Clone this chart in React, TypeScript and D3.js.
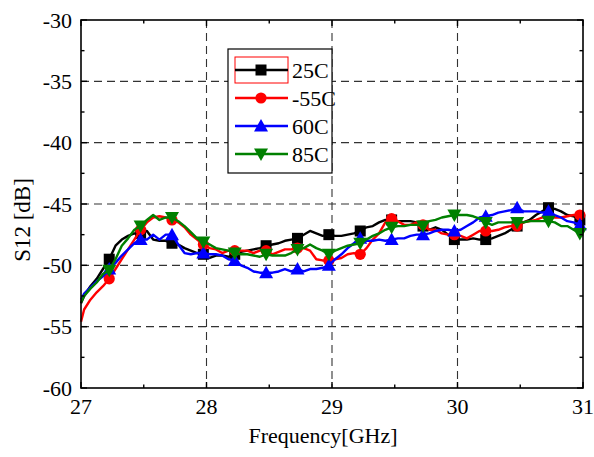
import React from "react";
import * as d3 from "d3";

const freq: number[] = [27.0, ...d3.range(80).map((i) => +(27.025 + 0.05 * i).toFixed(3)), 31.0];

const s25: number[] = [
  -53.1, -52.5, -51.7, -51.1, -50.3, -49.5, -48.4, -47.9, -47.6, -47.4, -47.4, -47.2, -47.9, -48.0, -48.0, -48.2,
  -48.3, -48.6, -48.8, -49.0, -49.1, -49.4, -49.2, -49.2, -49.3, -49.1, -48.9, -48.8, -48.7, -48.6, -48.4, -48.3,
  -48.2, -48.0, -47.9, -47.8, -47.5, -47.2, -47.4, -47.6, -47.5, -47.6, -47.6, -47.5, -47.4, -47.2, -46.9, -46.8,
  -46.5, -46.3, -46.3, -46.4, -46.4, -46.4, -46.5, -46.8, -47.1, -46.9, -47.1, -47.5, -47.9, -47.9, -47.9, -47.8,
  -47.9, -47.9, -47.8, -47.6, -47.4, -47.1, -46.8, -46.5, -46.3, -45.9, -45.6, -45.3, -45.4, -45.6, -45.9, -46.0,
  -46.3, -46.4,
];
const sM55: number[] = [
  -54.6, -53.6, -52.8, -52.2, -51.7, -51.1, -50.3, -49.5, -48.7, -47.9, -47.1, -46.5, -46.1, -46.0, -46.1, -46.3,
  -46.5, -46.9, -47.5, -47.9, -48.3, -48.6, -48.7, -49.0, -48.8, -48.8, -48.8, -48.8, -49.0, -48.8, -48.8, -49.1,
  -48.9, -48.7, -48.7, -48.6, -48.6, -48.8, -49.5, -49.6, -49.6, -49.5, -49.4, -49.1, -49.0, -49.1, -48.6, -47.9,
  -47.4, -46.5, -46.2, -46.4, -46.7, -46.7, -46.5, -46.7, -47.1, -47.1, -47.4, -47.5, -47.5, -47.6, -47.8, -47.5,
  -47.2, -47.2, -47.2, -47.1, -46.9, -46.8, -46.8, -46.5, -46.4, -46.3, -46.1, -46.0, -46.1, -46.1, -46.0, -45.9,
  -45.9, -45.9,
];
const s60: number[] = [
  -52.8, -52.3, -51.8, -51.3, -50.9, -50.3, -49.8, -49.2, -48.7, -48.2, -47.9, -47.9, -47.5, -47.9, -47.5, -47.5,
  -48.3, -49.0, -49.1, -49.0, -49.0, -49.1, -49.1, -49.2, -49.5, -49.6, -50.0, -50.2, -50.5, -50.6, -50.6, -50.6,
  -50.5, -50.3, -50.5, -50.3, -50.5, -50.3, -50.3, -50.2, -50.0, -49.5, -49.1, -48.6, -48.2, -47.8, -48.0, -48.0,
  -47.9, -48.0, -47.9, -47.8, -47.8, -47.6, -47.5, -47.5, -47.4, -47.2, -47.1, -47.1, -47.2, -47.1, -46.8, -46.5,
  -46.1, -46.0, -45.9, -45.7, -45.6, -45.5, -45.3, -45.6, -45.6, -45.6, -45.7, -45.6, -45.9, -46.1, -46.4, -46.5,
  -46.7, -46.8,
];
const s85: number[] = [
  -53.0, -52.5, -51.9, -51.4, -50.7, -50.4, -49.5, -48.4, -47.8, -47.1, -46.8, -46.3, -45.9, -46.3, -46.1, -46.1,
  -46.4, -46.8, -47.3, -47.8, -48.1, -48.3, -48.6, -48.7, -48.8, -49.0, -49.1, -49.1, -49.2, -49.3, -49.1, -49.2,
  -49.2, -49.2, -49.0, -48.7, -48.6, -48.3, -48.6, -48.8, -49.1, -48.8, -48.6, -48.4, -48.3, -48.2, -47.9, -47.6,
  -47.4, -47.1, -46.9, -46.8, -46.8, -46.7, -46.7, -46.8, -46.4, -46.3, -46.1, -46.0, -45.9, -45.9, -45.9, -46.0,
  -46.2, -46.5, -46.7, -46.5, -46.5, -46.5, -46.5, -46.5, -46.4, -46.4, -46.4, -46.4, -46.5, -46.8, -46.8, -47.1,
  -47.4, -47.6,
];

const seriesNames = ["25C", "-55C", "60C", "85C"];
const seriesColors = ["#000000", "#ff0000", "#0000ff", "#008000"];
const seriesShapes = ["square", "circle", "triangle", "triangleDown"];
const seriesValues = [s25, sM55, s60, s85];

const xTicks = [27, 28, 29, 30, 31];
const yTicks = [-60, -55, -50, -45, -40, -35, -30];

const W = 594;
const H = 457;
const L = 81, R = 583, T = 20, B = 388;
const FONT = "'Liberation Serif', 'Times New Roman', serif";

function Marker({ shape, x, y, color }: { shape: string; x: number; y: number; color: string }) {
  if (shape === "square") return <rect x={x - 5.5} y={y - 5.5} width={11} height={11} fill={color} />;
  if (shape === "circle") return <circle cx={x} cy={y} r={5.6} fill={color} />;
  if (shape === "triangle")
    return <path d={`M${x},${y - 7}L${x + 7},${y + 5.5}L${x - 7},${y + 5.5}Z`} fill={color} />;
  return <path d={`M${x},${y + 7}L${x + 7},${y - 5.5}L${x - 7},${y - 5.5}Z`} fill={color} />;
}

export default function App() {
  const x = d3.scaleLinear().domain([27, 31]).range([L, R]);
  const y = d3.scaleLinear().domain([-60, -30]).range([B, T]);
  const line = d3
    .line<[number, number]>()
    .x((d) => x(d[0]))
    .y((d) => y(d[1]));

  const xMinor = d3.range(27.5, 31, 1);
  const yMinor = d3.range(-57.5, -30, 5);

  const legendRows = [70, 98, 126, 154];

  return (
    <svg width={W} height={H} style={{ position: "absolute", left: 0, top: 0, background: "#fff" }}>
      <rect x={0} y={0} width={W} height={H} fill="#fff" />
      {/* grid */}
      <g stroke="#333" strokeWidth={1.1} strokeDasharray="8,5">
        {yTicks.slice(1, -1).map((t) => (
          <line key={"gy" + t} x1={L} x2={R} y1={y(t)} y2={y(t)} />
        ))}
        {xTicks.slice(1, -1).map((t) => (
          <line key={"gx" + t} x1={x(t)} x2={x(t)} y1={T} y2={B} />
        ))}
      </g>
      {/* series */}
      {seriesValues.map((vals, si) => {
        const pts: [number, number][] = freq.map((f, i) => [f, vals[i]]);
        return (
          <g key={si}>
            <path d={line(pts) || ""} fill="none" stroke={seriesColors[si]} strokeWidth={2.4} strokeLinejoin="round" />
            {pts
              .filter((_, i) => i % 5 === 0 && i > 0 && i < 81)
              .map((p, k) => (
                <Marker key={k} shape={seriesShapes[si]} x={x(p[0])} y={y(p[1])} color={seriesColors[si]} />
              ))}
          </g>
        );
      })}
      {/* axes frame and ticks */}
      <rect x={L} y={T} width={R - L} height={B - T} fill="none" stroke="#000" strokeWidth={1.6} />
      <g stroke="#000" strokeWidth={1.4}>
        {xTicks.map((t) => (
          <g key={"xt" + t}>
            <line x1={x(t)} x2={x(t)} y1={B} y2={B - 6} />
            <line x1={x(t)} x2={x(t)} y1={T} y2={T + 6} />
          </g>
        ))}
        {xMinor.map((t) => (
          <g key={"xm" + t}>
            <line x1={x(t)} x2={x(t)} y1={B} y2={B - 3.5} />
            <line x1={x(t)} x2={x(t)} y1={T} y2={T + 3.5} />
          </g>
        ))}
        {yTicks.map((t) => (
          <g key={"yt" + t}>
            <line x1={L} x2={L + 6} y1={y(t)} y2={y(t)} />
            <line x1={R} x2={R - 6} y1={y(t)} y2={y(t)} />
          </g>
        ))}
        {yMinor.map((t) => (
          <g key={"ym" + t}>
            <line x1={L} x2={L + 3.5} y1={y(t)} y2={y(t)} />
            <line x1={R} x2={R - 3.5} y1={y(t)} y2={y(t)} />
          </g>
        ))}
      </g>
      {/* tick labels */}
      <g fontFamily={FONT} fontSize={22} fill="#000">
        {yTicks.map((t) => (
          <text key={"yl" + t} x={72} y={y(t)} dy="0.35em" textAnchor="end">
            {t}
          </text>
        ))}
        {xTicks.map((t) => (
          <text key={"xl" + t} x={x(t)} y={414} textAnchor="middle">
            {t}
          </text>
        ))}
        <text x={323} y={443} textAnchor="middle">
          Frequency[GHz]
        </text>
        <text transform={`translate(30,220) rotate(-90)`} textAnchor="middle" fontSize={23}>
          S12 [dB]
        </text>
      </g>
      {/* legend */}
      <rect x={228} y={49} width={104} height={124} fill="#fff" stroke="#000" strokeWidth={1.2} />
      <rect x={235} y={57} width={53} height={26} fill="none" stroke="#ff0000" strokeWidth={1} />
      {seriesNames.map((n, i) => (
        <g key={"lg" + n}>
          <line x1={235} x2={288} y1={legendRows[i]} y2={legendRows[i]} stroke={seriesColors[i]} strokeWidth={2.4} />
          <Marker shape={seriesShapes[i]} x={261} y={legendRows[i]} color={seriesColors[i]} />
          <text x={292} y={legendRows[i]} dy="0.35em" fontFamily={FONT} fontSize={22} fill="#000">
            {n}
          </text>
        </g>
      ))}
    </svg>
  );
}
